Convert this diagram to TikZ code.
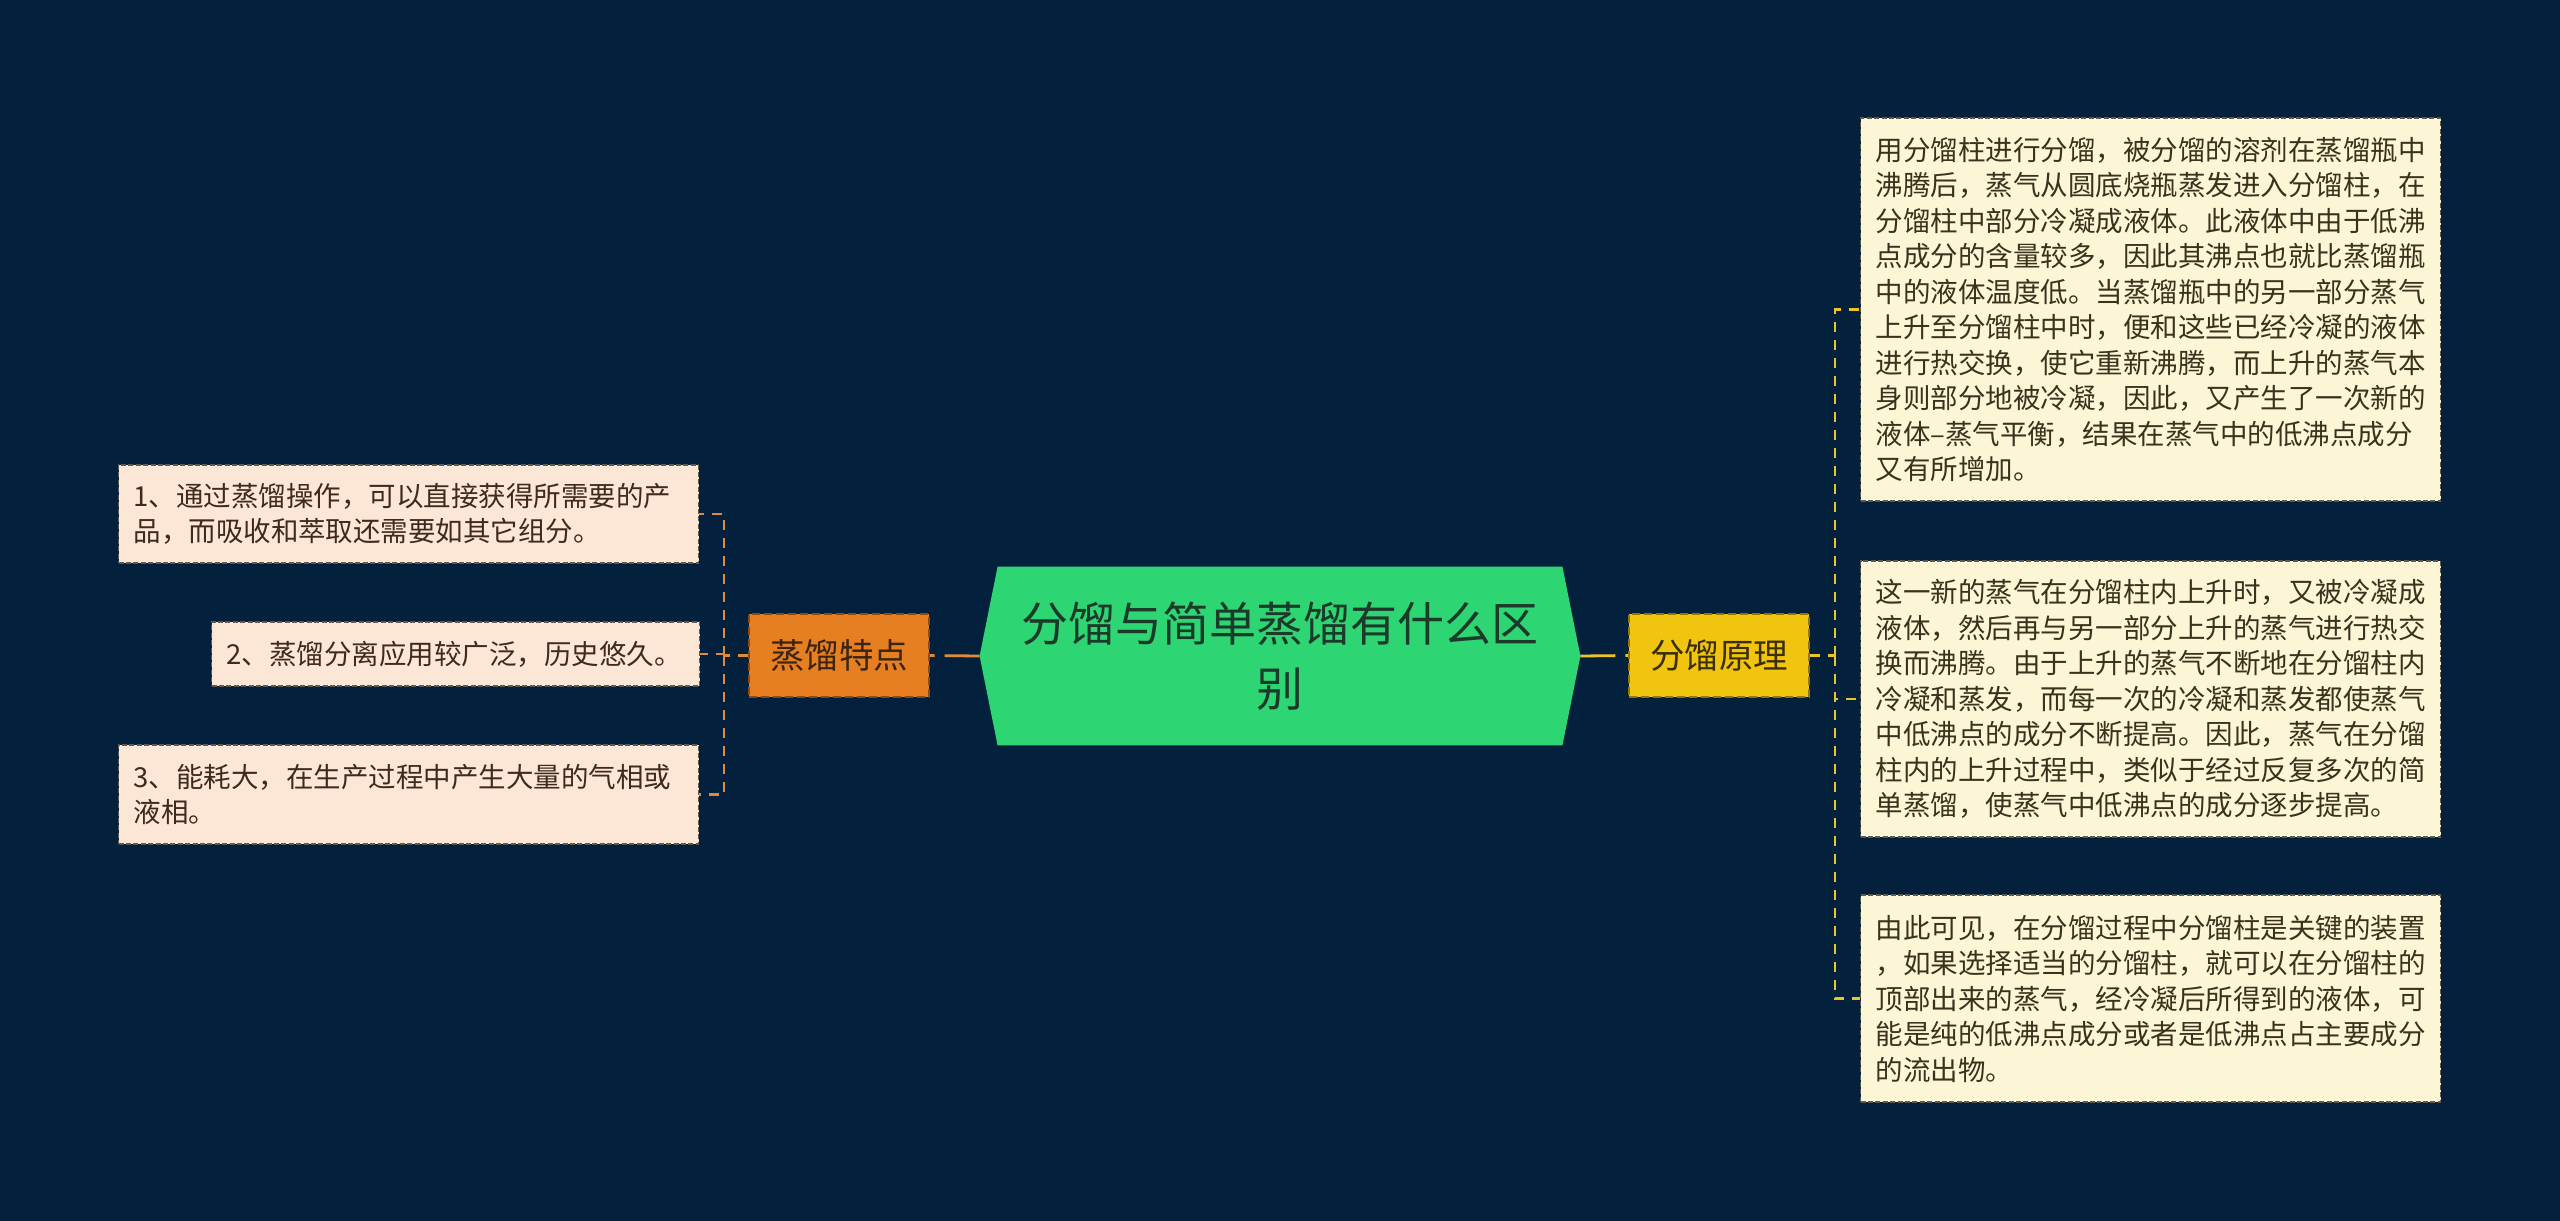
\documentclass[tikz,border=0pt]{standalone}
\usepackage{fontspec}
\newfontfamily\cjk{Noto Sans CJK SC}
\usetikzlibrary{backgrounds}
\definecolor{bgc}{HTML}{03213D}
\definecolor{hexg}{HTML}{2ED573}
\definecolor{hext}{HTML}{1C3A2A}
\definecolor{orf}{HTML}{E67E22}
\definecolor{ort}{HTML}{3B2510}
\definecolor{orline}{HTML}{E08A3C}
\definecolor{yef}{HTML}{F1C40F}
\definecolor{yet}{HTML}{3A2E05}
\definecolor{yeline}{HTML}{EBC42A}
\definecolor{peach}{HTML}{FCE6D5}
\definecolor{peacht}{HTML}{3E2A1E}
\definecolor{cream}{HTML}{FCF5D6}
\definecolor{creamt}{HTML}{3A321C}
\definecolor{boxline}{HTML}{5E5A4E}
\begin{document}
\begin{tikzpicture}[x=0.5pt,y=-0.5pt,
  leaf/.style={font={\cjk\fontsize{13.75pt}{17.75pt}\selectfont}, align=left,
    text width=275pt, inner xsep=7.5pt, inner ysep=0pt, draw=boxline,
    line width=0.9pt, dash pattern=on 2.5pt off 1.2pt},
  lleaf/.style={leaf, fill=peach, text=peacht},
  rleaf/.style={leaf, fill=cream, text=creamt},
  branch/.style={font={\cjk\fontsize{17.25pt}{20pt}\selectfont}, minimum width=90pt,
    minimum height=41.5pt, inner sep=0pt, line width=1pt, dash pattern=on 4pt off 2pt},
  obranch/.style={branch, fill=orf, text=ort, draw=orf!60!black},
  ybranch/.style={branch, fill=yef, text=yet, draw=yef!60!black},
  mainlink/.style={line width=1.4pt, dash pattern=on 17.5pt off 5pt},
  brk/.style={line width=1.25pt, dash pattern=on 5pt off 4pt}
]
\useasboundingbox (0,0) rectangle (2560,1221);

% central topic
\node[font={\cjk\fontsize{23.5pt}{32.5pt}\selectfont}, text=hext, align=center,
  minimum width=300pt, minimum height=89pt, inner sep=0pt] (c) at (1280,656)
  {分馏与简单蒸馏有什么区\\别};

% branches
\node[obranch] (o) at (839,655.5) {蒸馏特点};
\node[ybranch] (y) at (1719,655.5) {分馏原理};

% left leaves
\node[lleaf, minimum height=49pt] (L1) at (408.5,514)
  {1、通过蒸馏操作，可以直接获得所需要的产\\品，而吸收和萃取还需要如其它组分。};
\node[lleaf, text width=229pt, minimum height=32pt] (L2) at (455.5,654)
  {2、蒸馏分离应用较广泛，历史悠久。};
\node[lleaf, minimum height=49.5pt] (L3) at (408.5,794.5)
  {3、能耗大，在生产过程中产生大量的气相或\\液相。};

% right leaves
\node[rleaf, minimum height=191.5pt] (R1) at (2150.5,309.5)
  {用分馏柱进行分馏，被分馏的溶剂在蒸馏瓶中\\沸腾后，蒸气从圆底烧瓶蒸发进入分馏柱，在\\分馏柱中部分冷凝成液体。此液体中由于低沸\\点成分的含量较多，因此其沸点也就比蒸馏瓶\\中的液体温度低。当蒸馏瓶中的另一部分蒸气\\上升至分馏柱中时，便和这些已经冷凝的液体\\进行热交换，使它重新沸腾，而上升的蒸气本\\身则部分地被冷凝，因此，又产生了一次新的\\液体–蒸气平衡，结果在蒸气中的低沸点成分\\又有所增加。};
\node[rleaf, minimum height=138pt] (R2) at (2150.5,699)
  {这一新的蒸气在分馏柱内上升时，又被冷凝成\\液体，然后再与另一部分上升的蒸气进行热交\\换而沸腾。由于上升的蒸气不断地在分馏柱内\\冷凝和蒸发，而每一次的冷凝和蒸发都使蒸气\\中低沸点的成分不断提高。因此，蒸气在分馏\\柱内的上升过程中，类似于经过反复多次的简\\单蒸馏，使蒸气中低沸点的成分逐步提高。};
\node[rleaf, minimum height=103.5pt] (R3) at (2150.5,998.5)
  {由此可见，在分馏过程中分馏柱是关键的装置\\，如果选择适当的分馏柱，就可以在分馏柱的\\顶部出来的蒸气，经冷凝后所得到的液体，可\\能是纯的低沸点成分或者是低沸点占主要成分\\的流出物。};

% background and hexagon
\begin{scope}[on background layer]
  \fill[bgc] (0,0) rectangle (2560,1221);
  \fill[hexg] (c.west) -- ([xshift=9pt]c.north west) -- ([xshift=-9pt]c.north east)
    -- (c.east) -- ([xshift=-9pt]c.south east) -- ([xshift=9pt]c.south west) -- cycle;
\end{scope}

% junction points
\coordinate (lj) at (724,655.5);
\coordinate (rj) at (1835,655.5);

% connectors
\draw[mainlink, orline] (c.west) -- (o.east);
\draw[mainlink, yeline] (c.east) -- (y.west);

\draw[brk, orline] (o.west) -- (lj);
\draw[brk, orline] (lj) |- (L1.east);
\draw[brk, orline] (lj) |- (L2.east);
\draw[brk, orline] (lj) |- (L3.east);

\draw[brk, yeline] (y.east) -- (rj);
\draw[brk, yeline] (rj) |- (R1.west);
\draw[brk, yeline] (rj) |- (R2.west);
\draw[brk, yeline] (rj) |- (R3.west);
\end{tikzpicture}
\end{document}
